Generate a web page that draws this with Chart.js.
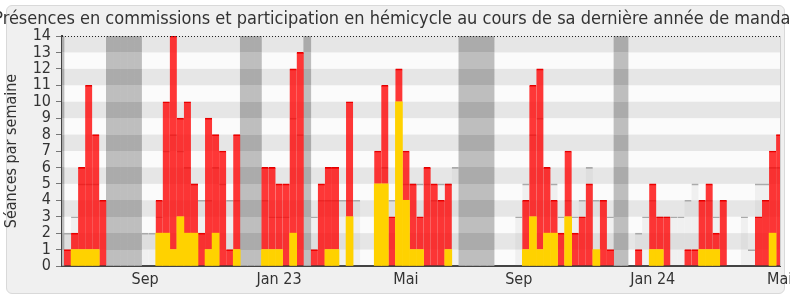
<!DOCTYPE html>
<html>
<head>
<meta charset="utf-8">
<script src="https://cdn.jsdelivr.net/npm/chart.js@4.4.1/dist/chart.umd.min.js"></script>
<style>
  html, body { margin: 0; padding: 0; background: #fff; }
  #frame { position: absolute; left: 6px; top: 5px; width: 777px; height: 287px; border: 1px solid #d9d9d9; border-radius: 6px; background: #f0f0f0; }
  #wrap { position: absolute; left: 0; top: 0; width: 790px; height: 300px; }
</style>
</head>
<body>
<div id="frame"></div>
<div id="wrap"><canvas id="chart" width="790" height="300"></canvas></div>
<script>
// one entry per week, index 0 = partial first week
const total = [
  0, 1, 2, 6, 11, 8, 4, 0, 0, 0,
  0, 0, 0, 0, 4, 10, 14, 9, 10, 5,
  2, 9, 8, 7, 1, 8, 0, 0, 0, 6,
  6, 5, 5, 12, 13, 0, 1, 5, 6, 6,
  0, 10, 0, 0, 0, 7, 11, 3, 12, 7,
  5, 3, 6, 5, 4, 5, 0, 0, 0, 0,
  0, 0, 0, 0, 0, 0, 4, 11, 12, 6,
  4, 2, 7, 2, 3, 5, 1, 4, 1, 0,
  0, 0, 1, 0, 5, 3, 3, 0, 0, 1,
  1, 4, 5, 2, 4, 0, 0, 0, 0, 3,
  4, 7, 8
]
const commission = [
  0, 0, 1, 1, 1, 1, 0, 0, 0, 0,
  0, 0, 0, 0, 2, 2, 1, 3, 2, 2,
  0, 1, 2, 0, 0, 1, 0, 0, 0, 1,
  1, 1, 0, 2, 0, 0, 0, 0, 1, 1,
  0, 3, 0, 0, 0, 5, 5, 0, 10, 4,
  1, 1, 0, 0, 0, 1, 0, 0, 0, 0,
  0, 0, 0, 0, 0, 0, 1, 3, 1, 2,
  2, 0, 3, 0, 0, 0, 1, 0, 0, 0,
  0, 0, 0, 0, 1, 1, 0, 0, 0, 0,
  0, 1, 1, 1, 0, 0, 0, 0, 0, 0,
  0, 2, 0
]
const median = [
  0, 2, 3, 5, 5, 5, 4, 0, 0, 0,
  0, 0, 2, 2, 3, 7, 8, 7, 6, 5,
  4, 4, 6, 5, 4, 4, 0, 0, 0, 4,
  3, 3, 3, 9, 8, 0, 3, 4, 4, 4,
  4, 4, 4, 0, 0, 5, 6, 4, 6, 5,
  5, 5, 5, 4, 5, 5, 6, 0, 0, 0,
  0, 0, 0, 0, 0, 3, 5, 8, 9, 6,
  5, 3, 4, 3, 4, 6, 4, 4, 3, 0,
  0, 0, 2, 3, 4, 3, 3, 3, 3, 4,
  5, 4, 4, 3, 4, 0, 0, 3, 1, 5,
  5, 6, 6
]
const vacationWeeks = [0, 7, 8, 9, 10, 11, 26, 27, 28, 35, 57, 58, 59, 60, 61, 79, 80]
const tickWeeks = [12, 31, 49, 65, 84, 102]
const tickLabels = ["Sep", "Jan 23", "Mai", "Sep", "Jan 24", "Mai"]
const titleText = "Présences en commissions et participation en hémicycle au cours de sa dernière année de mandat"

const weeks = total.map((v, i) => i)
const font = { family: "'DejaVu Sans Condensed', 'DejaVu Sans', sans-serif", size: 16 }

function vacationFill(context) {
  const chart = context.chart
  if (!chart.chartArea) return "#b8b8b8"
  const y = chart.scales.y
  const y0 = y.getPixelForValue(0)
  const y1 = y.getPixelForValue(14)
  const g = chart.ctx.createLinearGradient(0, y0, 0, y1)
  for (let k = 0; k < 14; k++) {
    const c = k % 2 ? "#ababab" : "#bebebe"
    g.addColorStop(k / 14, c)
    g.addColorStop((k + 1) / 14, c)
  }
  return g
}

const backdrop = {
  id: "backdrop",
  beforeDraw(chart) {
    const { ctx, chartArea: a, scales: { y } } = chart
    ctx.save()
    ctx.fillStyle = "#fbfbfb"
    ctx.fillRect(a.left, a.top, a.width, a.height)
    ctx.fillStyle = "#e6e6e6"
    for (let k = 1; k < 14; k += 2) {
      const top = y.getPixelForValue(k + 1)
      const bot = y.getPixelForValue(k)
      ctx.fillRect(a.left, top, a.width, bot - top)
    }
    ctx.restore()
  },
  afterDatasetsDraw(chart) {
    const { ctx, chartArea: a } = chart
    ctx.save()
    ctx.strokeStyle = "#222"
    ctx.lineWidth = 1
    ctx.setLineDash([1, 2])
    ctx.beginPath()
    ctx.moveTo(a.left, a.top + 0.5)
    ctx.lineTo(a.right, a.top + 0.5)
    ctx.stroke()
    ctx.setLineDash([])
    ctx.strokeStyle = "#cfcfcf"
    ctx.beginPath()
    ctx.moveTo(a.right + 0.5, a.top)
    ctx.lineTo(a.right + 0.5, a.bottom)
    ctx.stroke()
    ctx.restore()
  },
  // title drawn by hand: the built-in one squeezes text to the canvas width
  afterDraw(chart) {
    const ctx = chart.ctx
    ctx.save()
    ctx.fillStyle = "#333"
    ctx.font = "18px " + font.family
    ctx.textAlign = "center"
    ctx.textBaseline = "middle"
    ctx.fillText(titleText, chart.width / 2, 19.5)
    ctx.restore()
  }
}

new Chart(document.getElementById("chart"), {
  type: "bar",
  plugins: [backdrop],
  data: {
    datasets: [
      {
        label: "Commission",
        stack: "p",
        grouped: false,
        data: weeks.map(i => ({ x: i, y: commission[i] || null })),
        backgroundColor: "#ffd200",
        borderWidth: 0,
      },
      {
        label: "Hémicycle",
        stack: "p",
        grouped: false,
        data: weeks.map(i => ({ x: i, y: (total[i] - commission[i]) || null })),
        backgroundColor: "rgba(255,0,0,0.78)",
        borderColor: "#e00000",
        borderWidth: { top: 1, left: 0, right: 0, bottom: 0 },
        borderSkipped: "start",
      },
      {
        label: "Vacances",
        stack: "v",
        grouped: false,
        data: weeks.map(i => ({ x: i, y: vacationWeeks.includes(i) ? 14 : null })),
        backgroundColor: vacationFill,
        borderWidth: 0,
      },
      {
        label: "Médiane",
        stack: "m",
        grouped: false,
        data: weeks.map(i => ({ x: i, y: median[i] || null })),
        backgroundColor: "rgba(170,170,170,0.13)",
        borderColor: "#aaaaaa",
        borderWidth: { top: 1, left: 0, right: 0, bottom: 0 },
        borderSkipped: "start",
      },
    ],
  },
  options: {
    responsive: false,
    animation: false,
    barPercentage: 1,
    categoryPercentage: 1,
    layout: { padding: { left: 0, right: 10, top: 36, bottom: 10 } },
    plugins: {
      legend: { display: false },
      tooltip: { enabled: false },
      title: { display: false },
    },
    scales: {
      x: {
        type: "linear",
        offset: false,
        stacked: true,
        min: 0.213,
        max: 102.05,
        grid: { display: false, drawTicks: false, offset: false },
        border: { display: true, color: "#444", width: 2 },
        afterBuildTicks(scale) {
          scale.ticks = tickWeeks.map(v => ({ value: v }))
        },
        afterFit(scale) {
          scale.height = 24
          scale.paddingLeft = 0
          scale.paddingRight = 0
        },
        ticks: {
          autoSkip: false,
          maxRotation: 0,
          padding: 4,
          color: "#333",
          font: font,
          callback: (v, i) => tickLabels[i],
        },
      },
      y: {
        stacked: true,
        min: 0,
        max: 14,
        ticks: { stepSize: 1, autoSkip: false, padding: 5, color: "#333", font: font },
        grid: { drawOnChartArea: false, drawTicks: true, tickLength: 6, color: "#777" },
        border: { color: "#444", width: 2 },
        title: { display: true, text: "Séances par semaine", color: "#333", font: font, padding: { top: 2, bottom: 0 } },
        afterFit(scale) {
          scale.width = 62
          scale.paddingTop = 0
          scale.paddingBottom = 0
        },
      },
    },
  },
})
</script>
</body>
</html>
